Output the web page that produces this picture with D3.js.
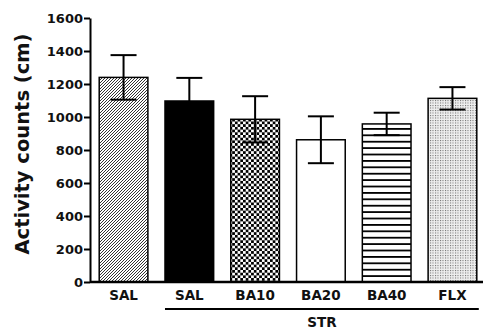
<!DOCTYPE html>
<html>
<head>
<meta charset="utf-8">
<script src="https://cdn.jsdelivr.net/npm/d3@7"></script>
<style>
  body { margin: 0; background: #fff; }
  text { font-family: "DejaVu Sans", Verdana, sans-serif; font-weight: bold; }
</style>
</head>
<body>
<svg id="chart"></svg>
<script>
// data
var groups = ["SAL", "SAL ", "BA10", "BA20", "BA40", "FLX"]
var labels = ["SAL", "SAL", "BA10", "BA20", "BA40", "FLX"]
var means = [1240, 1097, 986, 862, 958, 1113]
var sems = [135, 140, 140, 142, 68, 68]
var fills = ["url(#diag)", "#000", "url(#check)", "#fff", "url(#hstripe)", "url(#dots)"]
var yTicks = [0, 200, 400, 600, 800, 1000, 1200, 1400, 1600]

var width = 483
var height = 329
var margin = {top: 18, bottom: 47, left: 90, right: 0}

var svg = d3.select("#chart").attr("width", width).attr("height", height)

// fill patterns
var defs = svg.append("defs")

// pixel diagonal hatch, 3px period
var diag = defs.append("pattern").attr("id", "diag")
  .attr("patternUnits", "userSpaceOnUse").attr("width", 3).attr("height", 3)
diag.append("rect").attr("width", 3).attr("height", 3).attr("fill", "#fff")
;[[0, 2], [1, 1], [2, 0]].forEach(p => {
  diag.append("rect").attr("x", p[0]).attr("y", p[1]).attr("width", 1).attr("height", 1).attr("fill", "#333")
})

var check = defs.append("pattern").attr("id", "check")
  .attr("patternUnits", "userSpaceOnUse").attr("width", 5.4).attr("height", 5.4)
check.append("rect").attr("width", 5.4).attr("height", 5.4).attr("fill", "#fff")
check.append("rect").attr("width", 2.7).attr("height", 2.7).attr("fill", "#000")
check.append("rect").attr("x", 2.7).attr("y", 2.7).attr("width", 2.7).attr("height", 2.7).attr("fill", "#000")

var hs = defs.append("pattern").attr("id", "hstripe")
  .attr("patternUnits", "userSpaceOnUse").attr("width", 10).attr("height", 6.4)
hs.append("rect").attr("width", 10).attr("height", 6.4).attr("fill", "#fff")
hs.append("rect").attr("width", 10).attr("height", 1.8).attr("fill", "#000")

var dots = defs.append("pattern").attr("id", "dots")
  .attr("patternUnits", "userSpaceOnUse").attr("width", 2.5).attr("height", 2.5)
dots.append("rect").attr("width", 2.5).attr("height", 2.5).attr("fill", "#eee")
dots.append("rect").attr("width", 1).attr("height", 1).attr("fill", "#666")

var x = d3.scaleBand()
  .domain(groups)
  .range([margin.left, 486])
  .paddingInner(0.26)
  .paddingOuter(0.14)

var y = d3.scaleLinear()
  .domain([0, 1600])
  .range([height - margin.bottom, margin.top])

// bars
svg.append("g").selectAll("rect").data(groups).enter().append("rect")
  .attr("x", d => x(d))
  .attr("width", x.bandwidth())
  .attr("y", (d, i) => y(means[i]))
  .attr("height", (d, i) => y(0) - y(means[i]))
  .attr("fill", (d, i) => fills[i])
  .attr("stroke", "#000")
  .attr("stroke-width", 1.5)

// error bars
var capW = 13
var eb = svg.append("g").attr("stroke", "#000").attr("stroke-width", 2)
groups.forEach((g, i) => {
  var cx = x(g) + x.bandwidth() / 2
  eb.append("line").attr("x1", cx).attr("x2", cx)
    .attr("y1", y(means[i] + sems[i])).attr("y2", y(means[i] - sems[i]))
  eb.append("line").attr("x1", cx - capW).attr("x2", cx + capW)
    .attr("y1", y(means[i] + sems[i])).attr("y2", y(means[i] + sems[i]))
  eb.append("line").attr("x1", cx - capW).attr("x2", cx + capW)
    .attr("y1", y(means[i] - sems[i])).attr("y2", y(means[i] - sems[i]))
})

// y axis
var yAxis = d3.axisLeft(y).tickValues(yTicks).tickFormat(d3.format("d"))
  .tickSize(6).tickSizeOuter(0).tickPadding(1)
var ya = svg.append("g")
  .attr("transform", `translate(${margin.left},0)`)
  .call(yAxis)
ya.select(".domain").attr("stroke-width", 2)
ya.selectAll(".tick line").attr("stroke-width", 2)
ya.selectAll("text").attr("font-size", 13).attr("fill", "#111")
  .style("font-family", "DejaVu Sans").style("font-weight", "bold")

// x axis
var xAxis = d3.axisBottom(x).tickSize(0).tickSizeOuter(0).tickPadding(8)
  .tickFormat((d, i) => labels[i])
var xa = svg.append("g")
  .attr("transform", `translate(0,${y(0)})`)
  .call(xAxis)
xa.select(".domain").attr("stroke-width", 2.5).attr("d", `M${margin.left},0H${width}`)
xa.selectAll("text").attr("font-size", 13.5).attr("fill", "#111")
  .style("font-family", "DejaVu Sans").style("font-weight", "bold")

// STR bracket
var strStart = x(groups[1])
var strEnd = x(groups[5]) + x.bandwidth() + 2
svg.append("line")
  .attr("x1", strStart).attr("x2", strEnd)
  .attr("y1", 309).attr("y2", 309)
  .attr("stroke", "#000").attr("stroke-width", 2)
svg.append("text")
  .attr("x", (strStart + strEnd) / 2).attr("y", 327)
  .attr("text-anchor", "middle")
  .attr("font-size", 13.5).attr("fill", "#111")
  .text("STR")

// y title
svg.append("text")
  .attr("transform", "translate(29,144) rotate(-90)")
  .attr("text-anchor", "middle")
  .attr("font-size", 19.5).attr("fill", "#111")
  .text("Activity counts (cm)")
</script>
</body>
</html>
